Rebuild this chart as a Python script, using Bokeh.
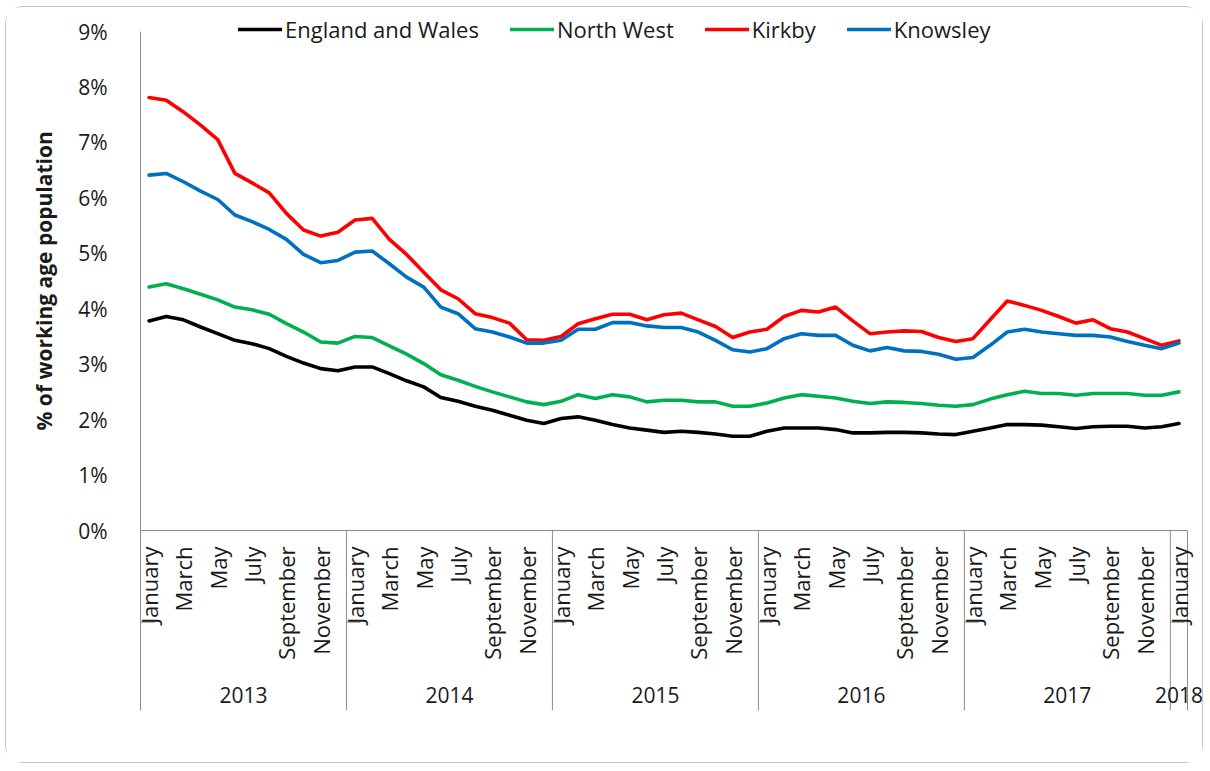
import math
from bokeh.plotting import figure
from bokeh.models import (Range1d, FixedTicker, PrintfTickFormatter, Legend,
                          LegendItem, Title, ColumnDataSource)
from bokeh.core.properties import value
from bokeh.embed import file_html
from bokeh.resources import INLINE

# ---------------- data ----------------
years = ["2013", "2014", "2015", "2016", "2017", "2018"]
month_names = ["January", "February", "March", "April", "May", "June", "July",
               "August", "September", "October", "November", "December"]
labelled_months = ["January", "March", "May", "July", "September", "November"]
periods = [(y, m) for y in years[:-1] for m in month_names] + [("2018", "January")]

england_wales = [
    3.78, 3.86, 3.80, 3.67, 3.55, 3.43, 3.37, 3.28, 3.14, 3.02, 2.92, 2.88,
    2.95, 2.95, 2.83, 2.70, 2.59, 2.40, 2.33, 2.24, 2.17, 2.08, 1.99, 1.93,
    2.02, 2.05, 1.99, 1.91, 1.85, 1.81, 1.77, 1.79, 1.77, 1.74, 1.70, 1.70,
    1.79, 1.85, 1.85, 1.85, 1.82, 1.76, 1.76, 1.77, 1.77, 1.76, 1.74, 1.73,
    1.79, 1.85, 1.91, 1.91, 1.90, 1.87, 1.84, 1.87, 1.88, 1.88, 1.85, 1.87,
    1.93]
north_west = [
    4.39, 4.45, 4.36, 4.26, 4.16, 4.03, 3.98, 3.90, 3.73, 3.58, 3.40, 3.38,
    3.50, 3.48, 3.33, 3.18, 3.01, 2.81, 2.71, 2.60, 2.50, 2.41, 2.32, 2.27,
    2.33, 2.45, 2.38, 2.45, 2.41, 2.32, 2.35, 2.35, 2.32, 2.32, 2.24, 2.24,
    2.30, 2.39, 2.45, 2.42, 2.39, 2.33, 2.29, 2.32, 2.31, 2.29, 2.26, 2.24,
    2.27, 2.37, 2.45, 2.51, 2.47, 2.47, 2.44, 2.47, 2.47, 2.47, 2.44, 2.44,
    2.50]
kirkby = [
    7.81, 7.76, 7.55, 7.31, 7.05, 6.44, 6.27, 6.09, 5.72, 5.42, 5.31, 5.38,
    5.60, 5.63, 5.25, 4.98, 4.66, 4.34, 4.18, 3.91, 3.84, 3.74, 3.44, 3.43,
    3.50, 3.73, 3.82, 3.90, 3.90, 3.80, 3.89, 3.92, 3.80, 3.68, 3.48, 3.58,
    3.63, 3.86, 3.97, 3.94, 4.03, 3.78, 3.55, 3.58, 3.60, 3.59, 3.48, 3.41,
    3.46, 3.80, 4.14, 4.06, 3.97, 3.86, 3.74, 3.80, 3.64, 3.58, 3.46, 3.34,
    3.42]
knowsley = [
    6.41, 6.44, 6.29, 6.12, 5.97, 5.69, 5.57, 5.43, 5.25, 4.98, 4.83, 4.87,
    5.02, 5.04, 4.81, 4.57, 4.39, 4.03, 3.91, 3.64, 3.58, 3.49, 3.38, 3.38,
    3.43, 3.63, 3.63, 3.75, 3.75, 3.69, 3.66, 3.66, 3.58, 3.43, 3.26, 3.22,
    3.28, 3.46, 3.55, 3.52, 3.52, 3.34, 3.24, 3.30, 3.24, 3.23, 3.18, 3.09,
    3.12, 3.34, 3.58, 3.63, 3.58, 3.55, 3.52, 3.52, 3.49, 3.41, 3.34, 3.28,
    3.38]
series_names = ["England and Wales", "North West", "Kirkby", "Knowsley"]
y_ticks = [0, 1, 2, 3, 4, 5, 6, 7, 8, 9]
y_title = "% of working age population"

# ---------------- styling / layout ----------------
FONT = "Open Sans"
TXT = "#1a1a1a"
AXIS = "#8c8c8c"
colors = ["#000000", "#00B050", "#FF0000", "#0070C0"]

# page geometry (px) of the reference
ORIGIN_X, ORIGIN_Y = 6, 7          # canvas origin on the page
W, H = 1198, 757
PLOT_L, PLOT_R = 140, 1187         # category area
ZERO_Y, TOP_TICK_Y = 530, 31
FRAME_L, FRAME_R, FRAME_T, FRAME_B = 138, ORIGIN_X + W, 10, 710

n = len(periods)
x = list(range(n))
band = (PLOT_R - PLOT_L) / n
y_scale = (ZERO_Y - TOP_TICK_Y) / max(y_ticks)
x_start = -0.5 - (PLOT_L - FRAME_L) / band
x_end = -0.5 + (FRAME_R - PLOT_L) / band
y_end = (ZERO_Y - FRAME_T) / y_scale
y_start = -(FRAME_B - ZERO_Y) / y_scale

p = figure(width=W, height=H, x_range=Range1d(x_start, x_end),
           y_range=Range1d(y_start, y_end),
           output_backend="svg", toolbar_location=None, x_axis_location=None,
           min_border_left=FRAME_L - ORIGIN_X, min_border_right=ORIGIN_X + W - FRAME_R,
           min_border_top=FRAME_T - ORIGIN_Y, min_border_bottom=ORIGIN_Y + H - FRAME_B,
           outline_line_color=None, background_fill_color="white",
           border_fill_color="white")
p.styles = {"border": "1px solid #c4c4c4", "border-radius": "18px",
            "margin": "6px 0px 0px 5px"}
p.grid.visible = False

ax = p.yaxis[0]
ax.ticker = FixedTicker(ticks=y_ticks)
ax.formatter = PrintfTickFormatter(format="%d%%")
ax.major_tick_line_color = None
ax.minor_tick_line_color = None
ax.axis_line_color = None
ax.major_label_standoff = 25
ax.major_label_text_font = FONT
ax.major_label_text_font_size = "21px"
ax.major_label_text_color = TXT

# axis lines (Excel style multi-level category axis)
year_of = [pr[0] for pr in periods]
boundaries = [-0.5] + [i - 0.5 for i in range(1, n) if year_of[i] != year_of[i - 1]] + [n - 0.5]
stub_y = -(621.7 - ZERO_Y) / y_scale
seg = dict(x0=[-0.5, -0.5], y0=[max(y_ticks), 0], x1=[-0.5, n - 0.5], y1=[y_start, 0])
for b in boundaries[1:]:
    seg["x0"].append(b); seg["y0"].append(0); seg["x1"].append(b); seg["y1"].append(y_start)
for b in boundaries[:-1]:
    seg["x0"].append(b); seg["y0"].append(stub_y)
    seg["x1"].append(min(b + 0.82, n - 0.5)); seg["y1"].append(stub_y)
p.segment(x0="x0", y0="y0", x1="x1", y1="y1", source=ColumnDataSource(seg),
          line_color=AXIS, line_width=1)

# month labels
mx = [i for i, pr in enumerate(periods) if pr[1] in labelled_months]
mt = [periods[i][1] for i in mx]
p.text(x=mx, y=[-(546 - ZERO_Y) / y_scale] * len(mx), text=mt, angle=math.pi / 2,
       text_align="right", text_baseline="middle", text_font=value(FONT),
       text_font_size="22px", text_color=TXT)

# year labels
yc = []
for yv in years:
    idx = [i for i, pr in enumerate(periods) if pr[0] == yv]
    yc.append(sum(idx) / len(idx))
p.text(x=yc, y=[-(694 - ZERO_Y) / y_scale] * len(years), text=years,
       text_align="center", text_baseline="middle", text_font=value(FONT),
       text_font_size="21px", text_color=TXT)

# series
items = []
for name, vals, c in zip(series_names, [england_wales, north_west, kirkby, knowsley], colors):
    r = p.line(x, vals, line_color=c, line_width=3.6, line_join="round", line_cap="round")
    items.append(LegendItem(label=name, renderers=[r]))

legend = Legend(items=items, orientation="horizontal",
                location=(238 - FRAME_L, FRAME_B - 44),
                padding=0, margin=0, spacing=31, glyph_width=44, glyph_height=22,
                label_height=22, label_standoff=3, border_line_color=None,
                background_fill_alpha=0, label_text_font=FONT,
                label_text_font_size="22px", label_text_color=TXT)
p.add_layout(legend)

# y axis title, starting near the 0% level and reading upwards
p.add_layout(Title(text=y_title, align="left", offset=FRAME_B - 430,
                   standoff=36, text_font=FONT, text_font_size="21px",
                   text_font_style="bold", text_color=TXT), "left")

open("out.html", "w").write(file_html(p, INLINE))
